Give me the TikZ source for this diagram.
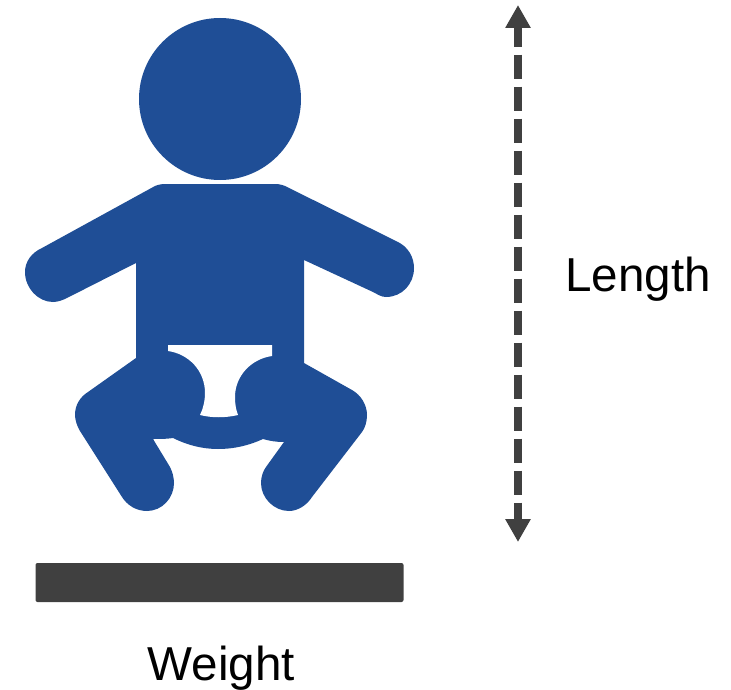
\documentclass[tikz,border=0pt]{standalone}
\usepackage{fontspec}
\setmainfont{Liberation Sans}
\usetikzlibrary{arrows.meta}
\definecolor{babyblue}{HTML}{1F4E96}
\definecolor{darkbar}{HTML}{404040}

\begin{document}
\begin{tikzpicture}[x=1pt,y=-1pt,>=Latex,font=\fontsize{47.6}{50}\selectfont,
  baby/.style={fill=babyblue},
  lengtharrow/.style={darkbar,line width=8.5pt,dash pattern=on 24pt off 8pt,dash phase=4pt,
    {Triangle[width=24pt,length=23pt]}-{Triangle[width=24pt,length=23pt]}}]
\useasboundingbox (0,0) rectangle (731,690);
% head
\fill[baby] (220,99) circle (81);
% body: arms, torso, legs and the band between them
\fill[baby] (155,186) .. controls (160,184) and (163,184) .. (168,184)
  -- (272,184) .. controls (277,184) and (280,184) .. (285,186)
  -- (398,242) .. controls (408,247) and (414,257) .. (414,268)
  .. controls (414,284) and (402,297) .. (386,297)
  .. controls (381,297) and (377,294) .. (373,292)
  -- (304,260) -- (304,363) -- (352,390)
  .. controls (361,395) and (367,405) .. (367,415)
  .. controls (367,422) and (365,428) .. (362,432)
  -- (312,497) .. controls (307,505) and (298,511) .. (289,511)
  .. controls (274,511) and (261,498) .. (261,483)
  .. controls (261,477) and (263,471) .. (266,467)
  -- (284,442) .. controls (276,442) and (270,441) .. (263,439)
  .. controls (250,445) and (235,449) .. (218,449)
  .. controls (202,449) and (187,445) .. (173,438)
  .. controls (167,439) and (160,439) .. (153,439)
  -- (170,467) .. controls (172,471) and (174,477) .. (174,483)
  .. controls (174,498) and (162,511) .. (147,511)
  .. controls (136,511) and (127,505) .. (122,497)
  -- (80,431) .. controls (77,426) and (75,420) .. (75,415)
  .. controls (75,405) and (80,397) .. (88,392)
  -- (136,358) -- (136,263) -- (67,298)
  .. controls (63,300) and (58,302) .. (53,302)
  .. controls (38,302) and (25,288) .. (25,272)
  .. controls (25,262) and (31,253) .. (42,248) -- cycle;
% diaper
\fill[white] (168,345) -- (272,345) -- (272,356)
  .. controls (251,359) and (235,376) .. (235,397)
  .. controls (235,404) and (236,410) .. (238,415)
  .. controls (225,418) and (212,418) .. (200,415)
  .. controls (203,409) and (205,401) .. (205,393)
  .. controls (205,371) and (189,354) .. (168,351) -- cycle;
% scale
\node[fill=darkbar,rounded corners=2pt,minimum width=368pt,minimum height=39pt,inner sep=0pt] (scalebar) at (219.5,582.5) {};
% length arrow
\coordinate (lengthtop) at (518,5);
\coordinate (lengthbottom) at (518,542);
\draw[lengtharrow] (lengthtop) -- (lengthbottom);
% labels
\node[anchor=base] (lengthlabel) at (638,291) {Length};
\node[anchor=base] (weightlabel) at (221.5,680) {Weight};
\end{tikzpicture}
\end{document}
